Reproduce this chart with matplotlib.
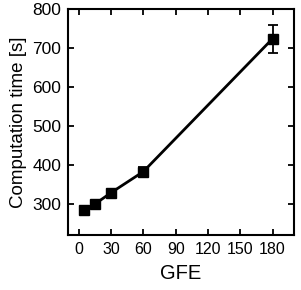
import numpy as np
import matplotlib
matplotlib.use("Agg")
import matplotlib.pyplot as plt

# data
gfe = [5, 15, 30, 60, 180]
comp_time = [285, 301, 330, 384, 724]
comp_err = [8, 8, 8, 12, 36]

xticks = [0, 30, 60, 90, 120, 150, 180]
yticks = [300, 400, 500, 600, 700, 800]

plt.rcParams['font.family'] = ['Liberation Sans', 'DejaVu Sans']

fig = plt.figure(figsize=(3.01, 2.90), dpi=100)
ax = fig.add_axes([0.226, 0.19, 0.751, 0.779])

ax.errorbar(gfe, comp_time, yerr=comp_err, color='black', marker='s',
            markersize=7, linewidth=2, elinewidth=1.3, capsize=3.5, capthick=1.3)

ax.set_xlim(-10, 200)
ax.set_ylim(222, 800)
ax.set_xticks(xticks)
ax.set_yticks(yticks)
ax.tick_params(direction='in', top=True, right=True, labeltop=False, labelright=False,
               length=4.5, width=1.3, labelsize=11.5, pad=5)
ax.tick_params(axis='y', labelsize=12.5)
for s in ax.spines.values():
    s.set_linewidth(1.5)

ax.set_xlabel('GFE', fontsize=14.5, labelpad=5)
ax.set_ylabel('Computation time [s]', fontsize=13.5, labelpad=4)

fig.savefig('out.png', dpi=100)
